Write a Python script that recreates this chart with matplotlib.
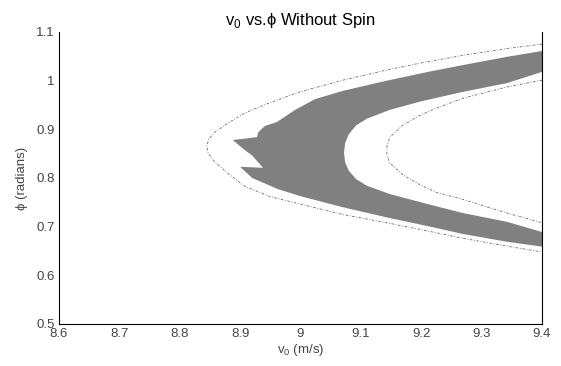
import matplotlib
matplotlib.use("Agg")
from matplotlib import pyplot as plt
from matplotlib.ticker import FuncFormatter

plt.rcParams['font.family'] = ['Liberation Sans', 'DejaVu Sans']
plt.rcParams['mathtext.fontset'] = 'custom'
plt.rcParams['mathtext.rm'] = 'Liberation Sans'

# grey band (outer top -> jagged left edge -> outer bottom -> hole bottom -> hole top)
band_v = [9.400, 9.342, 9.269, 9.215, 9.143, 9.070, 9.024, 8.991, 8.961, 8.941, 8.930, 8.928, 8.888,
          8.905, 8.920, 8.938, 8.900,
          8.920, 8.963, 8.999, 9.070, 9.143, 9.215, 9.269, 9.342, 9.400,
          9.400, 9.342, 9.269, 9.215, 9.148, 9.110, 9.092, 9.080, 9.074, 9.072,
          9.074, 9.080, 9.092, 9.110, 9.148, 9.198, 9.269, 9.342, 9.400]
band_phi = [1.061, 1.049, 1.032, 1.019, 1.000, 0.979, 0.962, 0.940, 0.915, 0.907, 0.894, 0.884, 0.878,
            0.860, 0.846, 0.821, 0.823,
            0.800, 0.777, 0.763, 0.740, 0.719, 0.700, 0.685, 0.669, 0.659,
            0.689, 0.710, 0.728, 0.745, 0.767, 0.784, 0.798, 0.815, 0.832, 0.852,
            0.872, 0.890, 0.908, 0.922, 0.940, 0.957, 0.977, 0.995, 1.018]

# outer boundary curve
outer_v = [9.400, 9.342, 9.269, 9.198, 9.143, 9.070, 8.999, 8.950, 8.910, 8.880, 8.858, 8.848, 8.845,
           8.847, 8.858, 8.883, 8.908, 8.949, 8.991, 9.070, 9.143, 9.215, 9.269, 9.342, 9.400]
outer_phi = [1.075, 1.066, 1.052, 1.036, 1.022, 1.001, 0.977, 0.955, 0.935, 0.913, 0.894, 0.880, 0.866,
             0.851, 0.833, 0.806, 0.783, 0.762, 0.749, 0.725, 0.708, 0.690, 0.676, 0.660, 0.648]

# inner boundary curve
inner_v = [9.400, 9.342, 9.269, 9.226, 9.198, 9.170, 9.148, 9.143,
           9.143, 9.148, 9.170, 9.198, 9.226, 9.269, 9.342, 9.400]
inner_phi = [1.001, 0.987, 0.964, 0.944, 0.929, 0.909, 0.884, 0.864,
             0.847, 0.831, 0.806, 0.786, 0.770, 0.756, 0.728, 0.708]

x_ticks = [8.6, 8.7, 8.8, 8.9, 9.0, 9.1, 9.2, 9.3, 9.4]
y_ticks = [0.5, 0.6, 0.7, 0.8, 0.9, 1.0, 1.1]

fig = plt.figure(figsize=(5.61, 3.66), dpi=100)
ax = fig.add_axes([59/561, 42/366, 483/561, 292/366])

ax.fill(band_v, band_phi, color='#808080', lw=0)
ax.plot(outer_v, outer_phi, color='#666666', lw=0.6, ls=(0, (3, 2, 1, 2)))
ax.plot(inner_v, inner_phi, color='#666666', lw=0.6, ls=(0, (3, 2, 1, 2)))

ax.set_xlim(8.6, 9.4)
ax.set_ylim(0.5, 1.1)
ax.set_xticks(x_ticks)
ax.set_yticks(y_ticks)
fmt = FuncFormatter(lambda v, p: f"{v:g}")
ax.xaxis.set_major_formatter(fmt)
ax.yaxis.set_major_formatter(fmt)
ax.tick_params(length=0, labelsize=9.5, labelcolor='#444444', pad=3)

ax.spines['top'].set_visible(False)
for s in ['left', 'right', 'bottom']:
    ax.spines[s].set_linewidth(0.8)

ax.set_title("v$_\\mathregular{0}$ vs.ϕ Without Spin", fontsize=12, pad=5)
ax.set_xlabel("v$_\\mathregular{0}$ (m/s)", fontsize=9.5, color='#444444', labelpad=1)
ax.set_ylabel("ϕ (radians)", fontsize=9.5, color='#444444', labelpad=6)

fig.savefig("out.png", dpi=100)
